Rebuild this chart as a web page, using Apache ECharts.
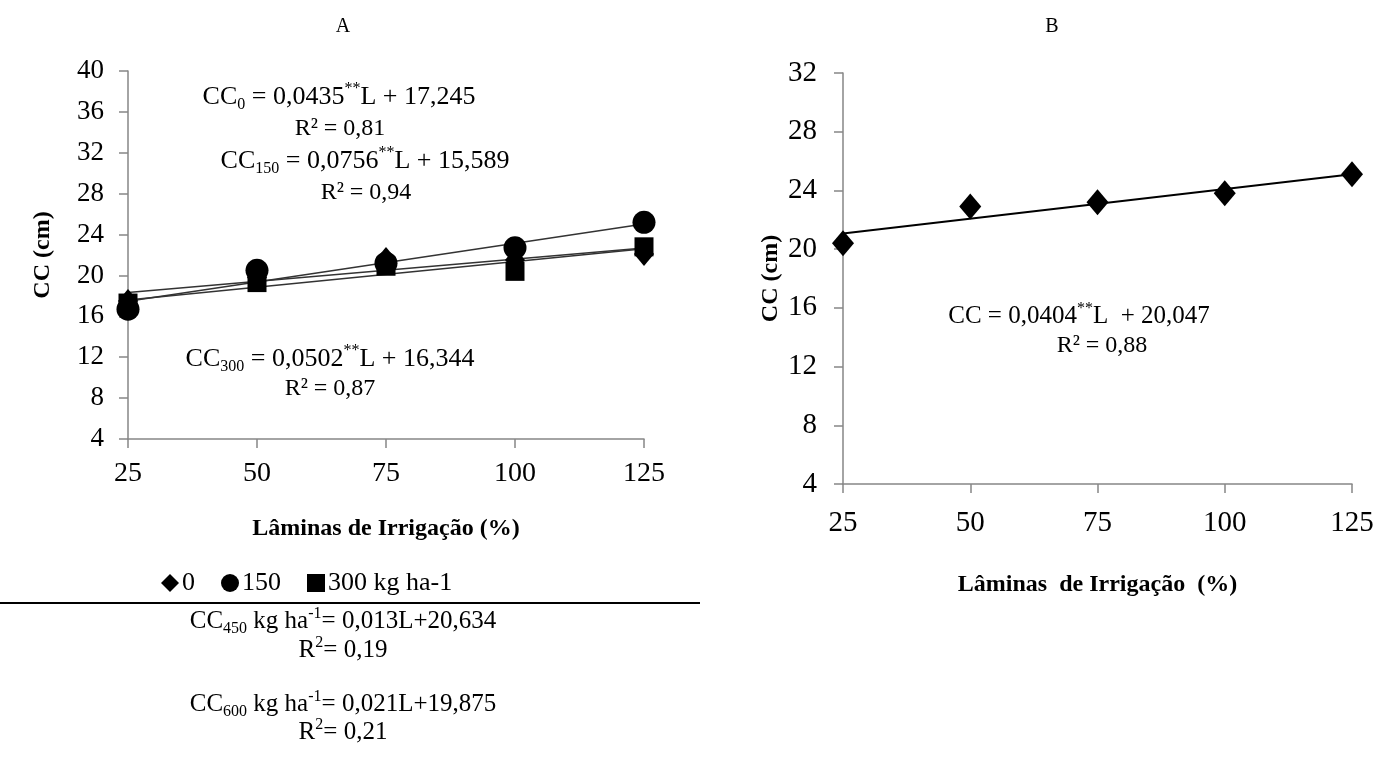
<!DOCTYPE html>
<html>
<head>
<meta charset="utf-8">
<script src="https://cdn.jsdelivr.net/npm/echarts@6/dist/echarts.min.js"></script>
<style>html,body{margin:0;padding:0;background:#fff;}#c{width:1381px;height:760px;}</style>
</head>
<body>
<div id="c"></div>
<script>
// ---- data ----
const lamina = [25, 50, 75, 100, 125];
const cc0 = [17.5, 19.8, 21.6, 21.5, 22.1];
const cc150 = [16.7, 20.5, 21.2, 22.7, 25.2];
const cc300 = [17.3, 19.3, 20.9, 20.4, 22.8];
const trend0 = [[25, 18.33], [125, 22.68]];
const trend150 = [[25, 17.48], [125, 25.04]];
const trend300 = [[25, 17.60], [125, 22.62]];
const ccB = [20.4, 22.9, 23.2, 23.8, 25.1];
const trendB = [[25, 21.06], [125, 25.10]];
const seriesNamesA = ['0', '150', '300 kg ha-1'];

const F = 'Liberation Serif';
const AX = '#868686';
const pts = (ys) => lamina.map((x, i) => [x, ys[i]]);

function eqText(x, y, parts, size, subSize) {
  size = size || 22;
  const s = subSize || Math.round(size * 0.65);
  return {
    type: 'text', x: x, y: y, z: 100,
    style: {
      text: parts,
      align: 'center', verticalAlign: 'middle',
      textAlign: 'center', textVerticalAlign: 'middle',
      fontFamily: F, fontSize: size, fill: '#000',
      rich: {
        n: { fontFamily: F, fontSize: size, lineHeight: size + 6, fill: '#000' },
        sub: { fontFamily: F, fontSize: s, lineHeight: Math.round(size * 0.6), verticalAlign: 'bottom', fill: '#000' },
        sup: { fontFamily: F, fontSize: s, lineHeight: Math.round(size * 0.6), verticalAlign: 'top', fill: '#000' }
      }
    }
  };
}

const axisCommon = {
  axisLine: { show: true, lineStyle: { color: AX, width: 1.5 } },
  axisTick: { show: true, inside: false, length: 9, lineStyle: { color: AX, width: 1.5 } },
  splitLine: { show: false },
};

const chart = echarts.init(document.getElementById('c'), null, { renderer: 'canvas' });
chart.setOption({
  backgroundColor: '#fff',
  animation: false,
  grid: [
    { left: 128, right: 1381 - 644, top: 71, height: 368 },
    { left: 843, right: 1381 - 1352, top: 73, height: 411 }
  ],
  xAxis: [
    Object.assign({}, axisCommon, {
      gridIndex: 0, type: 'value', min: 25, max: 125, interval: 25,
      axisLabel: { color: '#000', fontFamily: F, fontSize: 28, margin: 21 },
      name: 'Lâminas de Irrigação (%)', nameLocation: 'middle', nameGap: 78,
      nameTextStyle: { color: '#000', fontFamily: F, fontSize: 24, fontWeight: 'bold' }
    }),
    Object.assign({}, axisCommon, {
      gridIndex: 1, type: 'value', min: 25, max: 125, interval: 25,
      axisLabel: { color: '#000', fontFamily: F, fontSize: 29, margin: 25 },
      name: 'Lâminas  de Irrigação  (%)', nameLocation: 'middle', nameGap: 89,
      nameTextStyle: { color: '#000', fontFamily: F, fontSize: 24, fontWeight: 'bold' }
    })
  ],
  yAxis: [
    Object.assign({}, axisCommon, {
      gridIndex: 0, type: 'value', min: 4, max: 40, interval: 4,
      axisLabel: { color: '#000', fontFamily: F, fontSize: 27, margin: 24 },
      name: 'CC (cm)', nameLocation: 'middle', nameGap: 73, nameRotate: 90,
      nameTextStyle: { color: '#000', fontFamily: F, fontSize: 24, fontWeight: 'bold' }
    }),
    Object.assign({}, axisCommon, {
      gridIndex: 1, type: 'value', min: 4, max: 32, interval: 4,
      axisLabel: { color: '#000', fontFamily: F, fontSize: 29, margin: 26 },
      name: 'CC (cm)', nameLocation: 'middle', nameGap: 60, nameRotate: 90,
      nameTextStyle: { color: '#000', fontFamily: F, fontSize: 24, fontWeight: 'bold' }
    })
  ],
  legend: {
    data: [
      { name: seriesNamesA[0], icon: 'diamond' },
      { name: seriesNamesA[1], icon: 'circle' },
      { name: seriesNamesA[2], icon: 'rect' }
    ],
    left: 156, top: 565, itemWidth: 18, itemHeight: 18, itemGap: 26,
    textStyle: { color: '#000', fontFamily: F, fontSize: 26, padding: [0, 0, 0, -2] }
  },
  series: [
    { type: 'line', xAxisIndex: 0, yAxisIndex: 0, data: trend0, showSymbol: false, lineStyle: { color: '#333', width: 1.5 }, silent: true, z: 1 },
    { type: 'line', xAxisIndex: 0, yAxisIndex: 0, data: trend150, showSymbol: false, lineStyle: { color: '#333', width: 1.5 }, silent: true, z: 1 },
    { type: 'line', xAxisIndex: 0, yAxisIndex: 0, data: trend300, showSymbol: false, lineStyle: { color: '#333', width: 1.5 }, silent: true, z: 1 },
    { name: seriesNamesA[0], type: 'scatter', xAxisIndex: 0, yAxisIndex: 0, data: pts(cc0), symbol: 'diamond', symbolSize: [20, 24], itemStyle: { color: '#000', opacity: 1 }, z: 2 },
    { name: seriesNamesA[1], type: 'scatter', xAxisIndex: 0, yAxisIndex: 0, data: pts(cc150), symbol: 'circle', symbolSize: 23, itemStyle: { color: '#000', opacity: 1 }, z: 3 },
    { name: seriesNamesA[2], type: 'scatter', xAxisIndex: 0, yAxisIndex: 0, data: pts(cc300), symbol: 'rect', symbolSize: 19, itemStyle: { color: '#000', opacity: 1 }, z: 4 },
    { type: 'line', xAxisIndex: 1, yAxisIndex: 1, data: trendB, showSymbol: false, lineStyle: { color: '#000', width: 2 }, silent: true, z: 1 },
    { type: 'scatter', xAxisIndex: 1, yAxisIndex: 1, data: pts(ccB), symbol: 'diamond', symbolSize: [22, 26], itemStyle: { color: '#000', opacity: 1 }, z: 2 }
  ],
  graphic: [
    { type: 'text', x: 343, y: 27, style: { text: 'A', fontFamily: F, fontSize: 20, fill: '#000', align: 'center', verticalAlign: 'middle', textAlign: 'center', textVerticalAlign: 'middle' } },
    { type: 'text', x: 1052, y: 27, style: { text: 'B', fontFamily: F, fontSize: 20, fill: '#000', align: 'center', verticalAlign: 'middle', textAlign: 'center', textVerticalAlign: 'middle' } },
    eqText(339, 97, '{n|CC}{sub|0}{n| = 0,0435}{sup|**}{n|L + 17,245}', 26, 16),
    eqText(340, 129, '{n|R² = 0,81}', 24),
    eqText(365, 161, '{n|CC}{sub|150}{n| = 0,0756}{sup|**}{n|L + 15,589}', 26, 16),
    eqText(366, 193, '{n|R² = 0,94}', 24),
    eqText(330, 359, '{n|CC}{sub|300}{n| = 0,0502}{sup|**}{n|L + 16,344}', 26, 16),
    eqText(330, 389, '{n|R² = 0,87}', 24),
    eqText(1079, 316, '{n|CC = 0,0404}{sup|**}{n|L  + 20,047}', 25, 16),
    eqText(1102, 346, '{n|R² = 0,88}', 24),
    { type: 'line', shape: { x1: 0, y1: 603, x2: 700, y2: 603 }, style: { stroke: '#000', lineWidth: 2 } },
    eqText(343, 621, '{n|CC}{sub|450}{n| kg ha}{sup|-1}{n|= 0,013L+20,634}', 25, 16),
    eqText(343, 650, '{n|R}{sup|2}{n|= 0,19}', 25, 16),
    eqText(343, 704, '{n|CC}{sub|600}{n| kg ha}{sup|-1}{n|= 0,021L+19,875}', 25, 16),
    eqText(343, 732, '{n|R}{sup|2}{n|= 0,21}', 25, 16)
  ]
});
</script>
</body>
</html>
